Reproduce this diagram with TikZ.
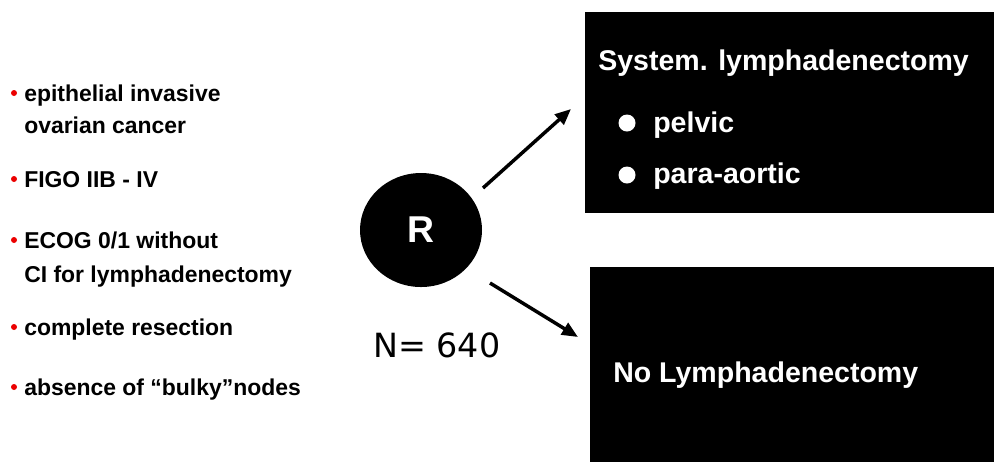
\documentclass[tikz,border=0pt]{standalone}
\usepackage{fontspec}
\setmainfont{Liberation Sans}
\newfontfamily\nfont{DejaVu Sans}
\usetikzlibrary{arrows.meta,shapes.geometric}

\begin{document}
\begin{tikzpicture}[x=0.75pt, y=-0.75pt, font=\bfseries]

    % Farben
    \definecolor{bulletred}{RGB}{235,0,0}

    % Stile
    \tikzset{
        crit/.style={anchor=base west, inner sep=0pt, font=\fontsize{17.2}{19}\selectfont\bfseries},
        armbox/.style={rectangle, fill=black, anchor=north west, inner sep=0pt},
        armtext/.style={anchor=base west, inner sep=0pt, text=white, font=\fontsize{21.4}{24}\selectfont\bfseries},
        pfeil/.style={line width=2.6pt, -{Triangle[length=12pt, width=10pt]}}
    }

    \useasboundingbox (0,0) rectangle (994,462);

    % Einschlusskriterien
    \foreach \txt/\y/\dot [count=\n] in {
        {epithelial invasive}/101/1,
        {ovarian cancer}/133/0,
        {FIGO IIB - IV}/187/1,
        {ECOG 0/1 without}/248/1,
        {CI for lymphadenectomy}/282/0,
        {complete resection}/335/1,
        {absence of “bulky”nodes}/395/1
    } {
        \ifnum\dot=1
            \fill[bulletred] (14, \y-8) circle (3);
        \fi
        \node[crit] (crit\n) at (24, \y) {\txt};
    }

    % Randomisierung
    \node[ellipse, fill=black, minimum width=91.5pt, minimum height=85.5pt,
          text=white, font=\fontsize{28}{30}\selectfont\bfseries] (R) at (421,230) {R};
    \node[anchor=base west, inner sep=0pt, font=\nfont\fontsize{25}{28}\selectfont] (N) at (373,357) {N= 640};

    % Arme
    \node[armbox, minimum width=306.75pt, minimum height=150.75pt] (sysbox) at (585,12) {};
    \node[armbox, minimum width=303pt, minimum height=146.25pt] (nobox) at (590,267) {};

    \node[armtext] (sys) at (598,70) {System. lymphadenectomy};
    \fill[white] (627,123) circle (8.5);
    \fill[white] (627,175) circle (8.5);
    \node[armtext] (pelvic) at (653,132) {pelvic};
    \node[armtext] (para) at (653,183) {para-aortic};
    \node[armtext] (nolymph) at (613,382) {No Lymphadenectomy};

    % Pfeile
    \coordinate (oben1) at (483,188);
    \coordinate (oben2) at (571,109);
    \coordinate (unten1) at (490,283);
    \coordinate (unten2) at (578,337);
    \draw[pfeil] (oben1) -- (oben2);
    \draw[pfeil] (unten1) -- (unten2);

\end{tikzpicture}
\end{document}
